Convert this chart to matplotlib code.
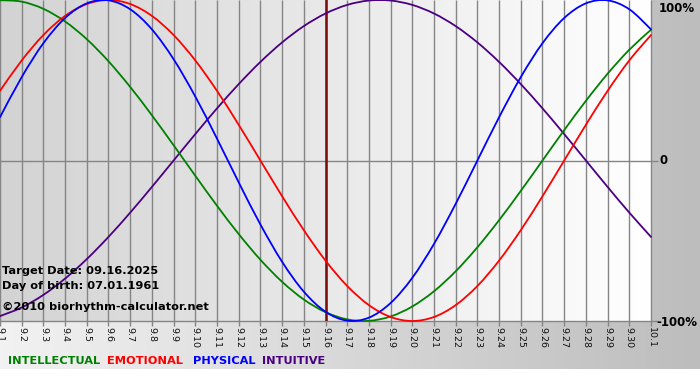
import numpy as np
import matplotlib
matplotlib.use("Agg")
import matplotlib.pyplot as plt
from matplotlib.path import Path
from matplotlib.patches import PathPatch

# days from 9.1 to 10.1
days = list(range(1, 32))
day_labels = ["9.%d" % d for d in range(1, 31)] + ["10.1"]

physical = [0.2698, 0.5196, 0.7308, 0.8879, 0.9791, 0.9977, 0.9423, 0.8170,
            0.6310, 0.3984, 0.1362, -0.1362, -0.3984, -0.6310, -0.8170, -0.9423,
            -0.9977, -0.9791, -0.8879, -0.7308, -0.5196, -0.2698, 0.0, 0.2698,
            0.5196, 0.7308, 0.8879, 0.9791, 0.9977, 0.9423, 0.8170]
emotional = [0.4339, 0.6235, 0.7818, 0.9010, 0.9749, 1.0, 0.9749, 0.9010,
             0.7818, 0.6235, 0.4339, 0.2225, 0.0, -0.2225, -0.4339, -0.6235,
             -0.7818, -0.9010, -0.9749, -1.0, -0.9749, -0.9010, -0.7818, -0.6235,
             -0.4339, -0.2225, 0.0, 0.2225, 0.4339, 0.6235, 0.7818]
intellectual = [0.9989, 0.9898, 0.9450, 0.8660, 0.7557, 0.6182, 0.4582, 0.2817,
                0.0951, -0.0951, -0.2817, -0.4582, -0.6182, -0.7557, -0.8660, -0.9450,
                -0.9898, -0.9989, -0.9718, -0.9096, -0.8146, -0.6901, -0.5406, -0.3717,
                -0.1893, 0.0, 0.1893, 0.3717, 0.5406, 0.6901, 0.8146]
intuitive = [-0.9694, -0.9158, -0.8372, -0.7357, -0.6142, -0.4759, -0.3247, -0.1646,
             0.0, 0.1646, 0.3247, 0.4759, 0.6142, 0.7357, 0.8372, 0.9158,
             0.9694, 0.9966, 0.9966, 0.9694, 0.9158, 0.8372, 0.7357, 0.6142,
             0.4759, 0.3247, 0.1646, 0.0, -0.1646, -0.3247, -0.4759]
target_day = 16

W, H = 700, 380
fig = plt.figure(figsize=(7, 3.8), dpi=100, facecolor="white")

def fx(px):
    return px / W

def fy(py):
    return 1 - py / H

def smooth_line(ax, xs, ys, color, lw):
    # smooth curve through the daily points (cardinal spline as bezier segments)
    pts = np.column_stack([xs, ys]).astype(float)
    verts = [pts[0]]
    codes = [Path.MOVETO]
    n = len(pts)
    for i in range(n - 1):
        p0 = pts[i - 1] if i > 0 else pts[i]
        p1, p2 = pts[i], pts[i + 1]
        p3 = pts[i + 2] if i + 2 < n else pts[i + 1]
        c1 = p1 + (p2 - p0) / 6.0
        c2 = p2 - (p3 - p1) / 6.0
        verts += [c1, c2, p2]
        codes += [Path.CURVE4] * 3
    ax.add_patch(PathPatch(Path(verts, codes), facecolor="none", edgecolor=color,
                           linewidth=lw, clip_on=False, zorder=3, capstyle="round"))

# outer background gradient (light left -> gray right)
bg = fig.add_axes([0, fy(369), 1, 369 / H])
grad = np.linspace(0, 1, 256).reshape(1, -1)
bg.imshow(grad, aspect="auto", cmap=matplotlib.colors.LinearSegmentedColormap.from_list(
    "o", ["#f2f2f2", "#bdbdbd"]), extent=[0, 1, 0, 1])
bg.set_axis_off()

# plot area
ax = fig.add_axes([0, fy(321), fx(651), 321 / H])
ax.imshow(grad, aspect="auto", cmap=matplotlib.colors.LinearSegmentedColormap.from_list(
    "p", ["#d3d3d3", "#ffffff"]), extent=[1, 31, -1, 1], zorder=0)
ax.set_xlim(1, 31)
ax.set_ylim(-1, 1)
ax.set_axis_off()

# day grid lines (extend a little below as ticks)
ax.vlines(days, -1.03, 1, colors="#858585", linewidth=1, clip_on=False, zorder=1)
ax.hlines([0, -1], 1, 31.3, colors="#858585", linewidth=1, clip_on=False, zorder=1)
ax.axvline(target_day, color="#7a0a0a", linewidth=1.8, zorder=2)

lw = 1.3
smooth_line(ax, days, intuitive, "#4b0082", lw)
smooth_line(ax, days, intellectual, "#008000", lw)
smooth_line(ax, days, emotional, "#ff0000", lw)
smooth_line(ax, days, physical, "#0000ff", lw)

# x tick labels
for d, lab in zip(days, day_labels):
    ax.text(d, -1.035, lab, rotation=-90, ha="center", va="top",
            fontsize=6.8, color="#111111", clip_on=False)

# right labels
fig.text(fx(659), fy(9), "100%", fontsize=8.5, fontweight="bold", va="center", ha="left")
fig.text(fx(659), fy(161), "0", fontsize=8.5, fontweight="bold", va="center", ha="left")
fig.text(fx(656), fy(322), "-100%", fontsize=8.5, fontweight="bold", va="center", ha="left")

# info texts
info_font = dict(fontsize=8.2, fontweight="bold", va="center")
fig.text(fx(2), fy(271), "Target Date: 09.16.2025", **info_font)
fig.text(fx(2), fy(286), "Day of birth: 07.01.1961", **info_font)
fig.text(fx(2), fy(307), "\u00a92010 biorhythm-calculator.net", **info_font)

# legend
leg_font = dict(fontsize=8.2, fontweight="bold", va="center")
fig.text(fx(8), fy(361), "INTELLECTUAL", color="#008000", **leg_font)
fig.text(fx(107), fy(361), "EMOTIONAL", color="#ff0000", **leg_font)
fig.text(fx(193), fy(361), "PHYSICAL", color="#0000ff", **leg_font)
fig.text(fx(262), fy(361), "INTUITIVE", color="#4b0082", **leg_font)

fig.savefig("out.png", dpi=100, facecolor="white")
